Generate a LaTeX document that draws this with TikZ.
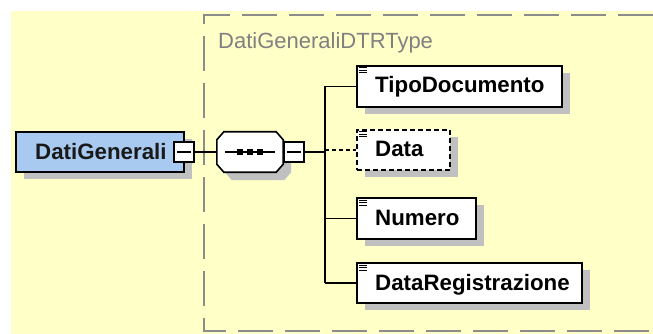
\documentclass[tikz,border=0pt]{standalone}
\usepackage{fontspec}
\setmainfont{Liberation Sans}
\definecolor{bgyellow}{HTML}{FFFFC8}
\definecolor{elemblue}{HTML}{A8CAF0}
\definecolor{shadowc}{HTML}{C0C0C0}
\definecolor{framegray}{HTML}{8C8C8C}
\definecolor{titlegray}{HTML}{808080}
\tikzset{
  boxshadow/.style={preaction={fill=shadowc, draw=none, transform canvas={shift={(8pt,-7pt)}}}},
  elembox/.style={draw=black, line width=2pt, fill=white, inner sep=0pt, boxshadow},
  optbox/.style={elembox, dash pattern=on 5pt off 3pt},
  rootbox/.style={elembox, fill=elemblue},
  minusbox/.style={draw=black, line width=1.4pt, fill=white, minimum width=20pt, minimum height=20pt, inner sep=0pt},
  lbl/.style={inner sep=0pt, anchor=base west, font=\fontsize{22.3}{26}\selectfont\bfseries, text=black},
  conn/.style={line width=1.5pt, draw=black},
  optconn/.style={conn, dash pattern=on 4pt off 3pt},
  frameline/.style={draw=framegray, line width=2pt, dash pattern=on 35pt off 12pt},
  iconline/.style={line width=1pt, draw=black}
}
\newcommand{\elemicon}[1]{%
  \draw[iconline] ([shift={(3,3)}]#1.north west) -- +(8,0);
  \draw[iconline] ([shift={(3,5.5)}]#1.north west) -- +(8,0);
  \draw[iconline] ([shift={(3,8)}]#1.north west) -- +(8,0);
}
\newcommand{\octpath}[1]{([shift={(7,0)}]#1.north west) -- ([shift={(-7,0)}]#1.north east)
  -- ([shift={(0,8)}]#1.north east) -- ([shift={(0,-8)}]#1.south east)
  -- ([shift={(-7,0)}]#1.south east) -- ([shift={(7,0)}]#1.south west)
  -- ([shift={(0,-8)}]#1.south west) -- ([shift={(0,8)}]#1.north west) -- cycle}
\begin{document}
\begin{tikzpicture}[x=1pt, y=-1pt]
\useasboundingbox (0,0) rectangle (653,334);
% background
\fill[bgyellow] (11,11) rectangle (653,334);
% type frame
\draw[frameline] (653,15) -- (204,15) -- (204,331) -- (653,331);
\node[inner sep=0pt, anchor=base west, font=\fontsize{22}{26}\selectfont, text=titlegray] (title) at (218,49) {DatiGeneraliDTRType};

% root element
\node[rootbox, minimum width=168pt, minimum height=40pt] (root) at (100,152) {};
\node[lbl, text={black!90}] (rootlbl) at (35,159) {DatiGenerali};
\node[minusbox] (minus1) at (184,152) {};
\draw[line width=1.4pt] ([shift={(4,0)}]minus1.west) -- ([shift={(-4,0)}]minus1.east);

% sequence compositor
\node[inner sep=0pt, minimum width=66pt, minimum height=40pt] (seq) at (250,152) {};
\node[inner sep=0pt, minimum width=66pt, minimum height=40pt] (seqshadow) at (258,160) {};
\fill[shadowc] \octpath{seqshadow};
\draw[line width=1.6pt, fill=white] \octpath{seq};
\draw[line width=1.5pt] ([shift={(-25,0)}]seq.center) -- ([shift={(25,0)}]seq.center);
\foreach \dx in {-10,0,10} {
  \fill ([shift={(\dx-2.7,-2.7)}]seq.center) rectangle ([shift={(\dx+2.7,2.7)}]seq.center);
}
\node[minusbox] (minus2) at (294,152) {};
\draw[line width=1.4pt] ([shift={(4,0)}]minus2.west) -- ([shift={(-4,0)}]minus2.east);

\draw[conn] (minus1.east) -- (seq.west);
\coordinate (spine) at (325,152);
\draw[conn] (minus2.east) -- (spine);

% children
\node[elembox, minimum width=205pt, minimum height=41pt, anchor=west] (tipo) at (356,86.5) {};
\node[optbox, minimum width=93pt, minimum height=40pt, anchor=west] (data) at (356,150) {};
\node[elembox, minimum width=119pt, minimum height=41pt, anchor=west] (numero) at (356,218.5) {};
\node[elembox, minimum width=225pt, minimum height=40pt, anchor=west] (datareg) at (356,283) {};

\node[lbl] (tipolbl) at ([shift={(19,6.5)}]tipo.west) {TipoDocumento};
\node[lbl] (datalbl) at ([shift={(19,7)}]data.west) {Data};
\node[lbl] (numerolbl) at ([shift={(19,6.5)}]numero.west) {Numero};
\node[lbl] (datareglbl) at ([shift={(19,7)}]datareg.west) {DataRegistrazione};

\elemicon{tipo}
\elemicon{data}
\elemicon{numero}
\elemicon{datareg}

% spine connectors
\draw[conn] (spine |- tipo.west) -- (spine |- datareg.west);
\draw[conn] (spine |- tipo.west) -- (tipo.west);
\draw[optconn] (spine |- data.west) -- (data.west);
\draw[conn] (spine |- numero.west) -- (numero.west);
\draw[conn] (spine |- datareg.west) -- (datareg.west);
\end{tikzpicture}
\end{document}
